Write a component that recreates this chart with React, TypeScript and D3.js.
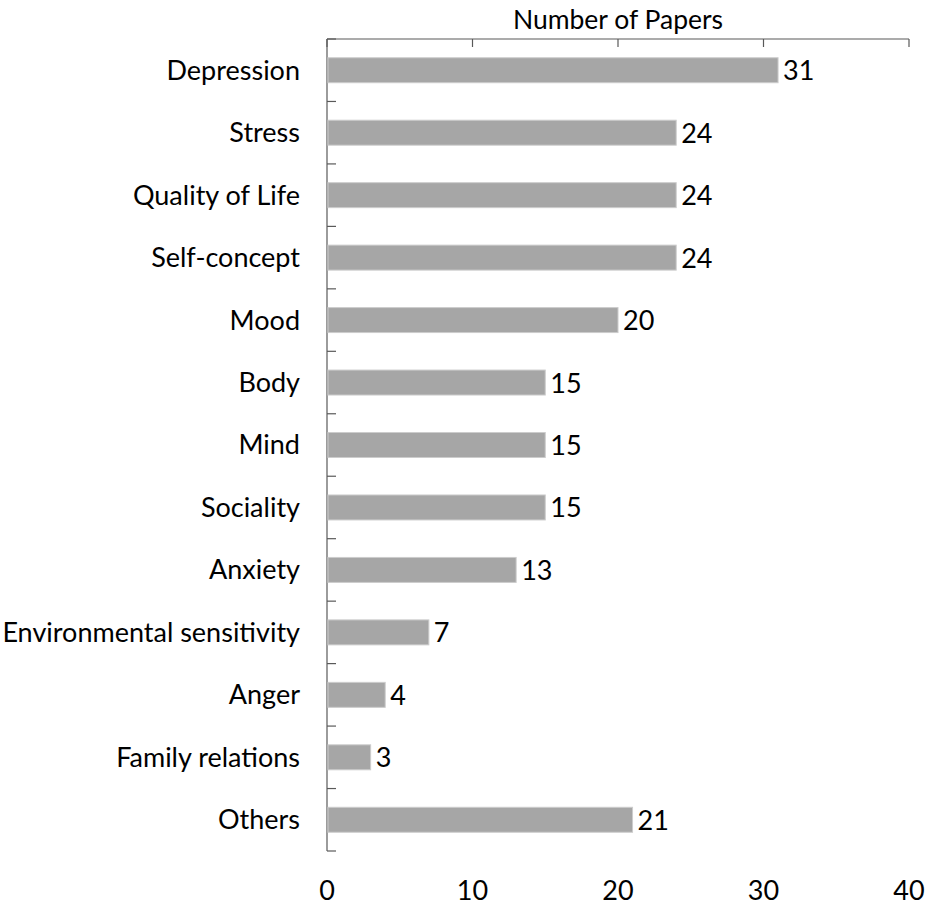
import React from "react";
import * as d3 from "d3";

const categories = [
  "Depression", "Stress", "Quality of Life", "Self-concept", "Mood", "Body", "Mind",
  "Sociality", "Anxiety", "Environmental sensitivity", "Anger", "Family relations", "Others",
];
const values = [31, 24, 24, 24, 20, 15, 15, 15, 13, 7, 4, 3, 21];
const xTicks = [0, 10, 20, 30, 40];
const axisTitle = "Number of Papers";

const W = 931, H = 911;
const left = 327, right = 909, top = 39, bottom = 851;
const font = "Lato, 'Open Sans', sans-serif";

export default function App() {
  const x = d3.scaleLinear().domain([0, 40]).range([left, right]);
  const y = d3.scaleBand<string>().domain(categories).range([top, bottom]).paddingInner(0.6).paddingOuter(0.3);
  const step = y.step();
  const axisColor = "#595959";
  return (
    <svg width={W} height={H} style={{ position: "absolute", left: 0, top: 0, background: "#fff" }}>
      <text x={(left + right) / 2} y={29} textAnchor="middle" fontFamily={font} fontSize={26.5} fill="#000">{axisTitle}</text>
      {/* top axis */}
      <line x1={left} x2={right} y1={top} y2={top} stroke={axisColor} strokeWidth={1.2} />
      {xTicks.map((t) => (
        <line key={"t" + t} x1={x(t)} x2={x(t)} y1={top} y2={top + 8} stroke={axisColor} strokeWidth={1.2} />
      ))}
      {/* left axis */}
      <line x1={left} x2={left} y1={top} y2={bottom} stroke={axisColor} strokeWidth={1.2} />
      {d3.range(categories.length + 1).map((i) => (
        <line key={"c" + i} x1={left} x2={left + 9} y1={top + i * step} y2={top + i * step} stroke={axisColor} strokeWidth={1.2} />
      ))}
      {categories.map((c, i) => (
        <g key={c}>
          <rect x={x(0) + 1} y={y(c)!} width={x(values[i]) - x(0) - 1} height={y.bandwidth()} fill="#a6a6a6" stroke="#cccccc" strokeWidth={1} />
          <text x={300} y={y(c)! + y.bandwidth() / 2} dy="0.35em" textAnchor="end" fontFamily={font} fontSize={27} fill="#000">{c}</text>
          <text x={x(values[i]) + 5} y={y(c)! + y.bandwidth() / 2} dy="0.37em" textAnchor="start" fontFamily={font} fontSize={27} fill="#000">{values[i]}</text>
        </g>
      ))}
      {xTicks.map((t) => (
        <text key={"l" + t} x={x(t)} y={900} textAnchor="middle" fontFamily={font} fontSize={27} fill="#000">{t}</text>
      ))}
    </svg>
  );
}
